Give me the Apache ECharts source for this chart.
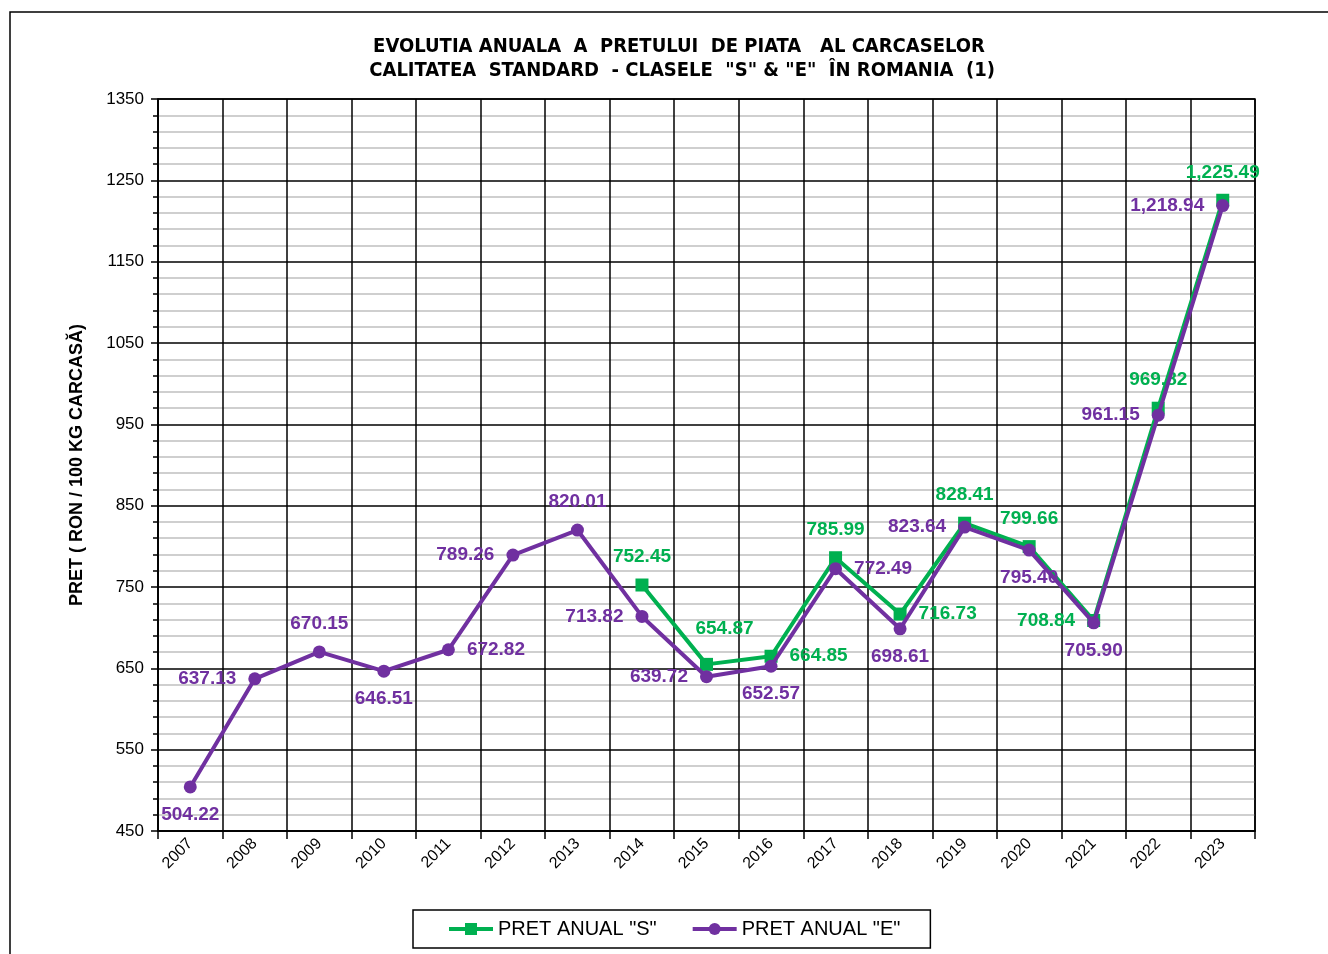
<!DOCTYPE html>
<html>
<head>
<meta charset="utf-8">
<script src="https://cdn.jsdelivr.net/npm/echarts@6/dist/echarts.min.js"></script>
<style>
  html, body { margin: 0; padding: 0; background: #fff; }
  #chart { width: 1328px; height: 954px; }
</style>
</head>
<body>
<div id="chart"></div>
<script>
// ---- data ----
var years = ['2007','2008','2009','2010','2011','2012','2013','2014','2015','2016','2017','2018','2019','2020','2021','2022','2023'];
var pretS = [null, null, null, null, null, null, null, 752.45, 654.87, 664.85, 785.99, 716.73, 828.41, 799.66, 708.84, 969.82, 1225.49];
var pretE = [504.22, 637.13, 670.15, 646.51, 672.82, 789.26, 820.01, 713.82, 639.72, 652.57, 772.49, 698.61, 823.64, 795.40, 705.90, 961.15, 1218.94];
var seriesNames = ['PRET ANUAL "S"', 'PRET ANUAL "E"'];
var titleText = 'EVOLUTIA ANUALA  A  PRETULUI  DE PIATA   AL CARCASELOR\n CALITATEA  STANDARD  - CLASELE  "S" & "E"  ÎN ROMANIA  (1)';
var yName = 'PRET ( RON / 100 KG CARCASĂ)';

// ---- label placement (style) ----
var posS = [null, null, null, null, null, null, null, 'top', 'top', 'right', 'top', 'right', 'top', 'top', 'left', 'top', 'top'];
var posE = ['bottom', 'left', 'top', 'bottom', 'right', 'left', 'top', 'left', 'left', 'bottom', 'right', 'bottom', 'left', 'bottom', 'bottom', 'left', 'left'];
var offS = {8: [18, -8]};

var GREEN = '#00b050';
var PURPLE = '#7030a0';
var NARROW = '"Liberation Sans Narrow", "DejaVu Sans Condensed", "Liberation Sans", sans-serif';
var ARIAL = '"Liberation Sans", Arial, sans-serif';

function fmt(v) {
  return v.toLocaleString('en-US', {minimumFractionDigits: 2, maximumFractionDigits: 2});
}

function buildData(vals, pos, offs) {
  return vals.map(function (v, i) {
    if (v == null) return null;
    var item = { value: v, label: { position: pos[i] } };
    if (offs && offs[i]) item.label.offset = offs[i];
    return item;
  });
}

var labelBase = function (color) {
  return {
    show: true,
    color: color,
    fontFamily: ARIAL,
    fontWeight: 'bold',
    fontSize: 19,
    distance: 12,
    formatter: function (p) { return fmt(p.value); }
  };
};

var chart = echarts.init(document.getElementById('chart'), null, { renderer: 'canvas' });

chart.setOption({
  animation: false,
  backgroundColor: '#fff',
  graphic: [{
    type: 'rect',
    shape: { x: 10, y: 12, width: 1340, height: 980 },
    style: { fill: 'none', stroke: '#000', lineWidth: 1.5 },
    silent: true
  }],
  title: {
    text: titleText,
    left: 674,
    top: 30,
    textAlign: 'center',
    textStyle: {
      fontFamily: NARROW,
      fontWeight: 'bold',
      fontSize: 20,
      lineHeight: 24,
      color: '#000'
    }
  },
  legend: {
    left: 413,
    top: 910,
    data: seriesNames,
    borderColor: '#000',
    borderWidth: 1.5,
    padding: [9, 30, 9, 34],
    itemGap: 34,
    itemWidth: 44,
    itemHeight: 15,
    lineStyle: { width: 4 },
    textStyle: { fontFamily: ARIAL, fontSize: 20, color: '#000' }
  },
  grid: {
    left: 158,
    right: 73,
    top: 99,
    bottom: 123,
    show: true,
    borderColor: '#000',
    borderWidth: 1.5
  },
  xAxis: {
    type: 'category',
    data: years,
    boundaryGap: true,
    axisLine: { lineStyle: { color: '#000', width: 1.5 } },
    axisTick: { show: true, length: 8, lineStyle: { color: '#000', width: 1.5 } },
    splitLine: { show: true, lineStyle: { color: '#000', width: 1.5 } },
    axisLabel: {
      rotate: 45,
      fontFamily: ARIAL,
      fontSize: 16,
      color: '#000',
      margin: 10,
      interval: 0
    }
  },
  yAxis: {
    type: 'value',
    min: 450,
    max: 1350,
    interval: 100,
    name: yName,
    nameLocation: 'middle',
    nameRotate: 90,
    nameGap: 72,
    nameTextStyle: { fontFamily: ARIAL, fontWeight: 'bold', fontSize: 18, color: '#000' },
    axisLine: { show: true, lineStyle: { color: '#000', width: 1.5 } },
    axisTick: { show: true, length: 7, lineStyle: { color: '#000', width: 1.5 } },
    minorTick: { show: true, splitNumber: 5, length: 5, lineStyle: { color: '#000', width: 1.5 } },
    splitLine: { show: true, lineStyle: { color: '#000', width: 1.5 } },
    minorSplitLine: { show: true, lineStyle: { color: '#c0c0c0', width: 1.5 } },
    axisLabel: {
      fontFamily: ARIAL,
      fontSize: 17,
      color: '#000',
      margin: 14,
      formatter: function (v) { return String(v); }
    }
  },
  series: [
    {
      name: seriesNames[0],
      type: 'line',
      data: buildData(pretS, posS, offS),
      connectNulls: false,
      symbol: 'rect',
      symbolSize: 13,
      lineStyle: { color: GREEN, width: 4 },
      itemStyle: { color: GREEN },
      label: labelBase(GREEN),
      z: 3
    },
    {
      name: seriesNames[1],
      type: 'line',
      data: buildData(pretE, posE),
      symbol: 'circle',
      symbolSize: 13,
      lineStyle: { color: PURPLE, width: 4 },
      itemStyle: { color: PURPLE },
      label: labelBase(PURPLE),
      z: 4
    }
  ]
});
</script>
</body>
</html>
